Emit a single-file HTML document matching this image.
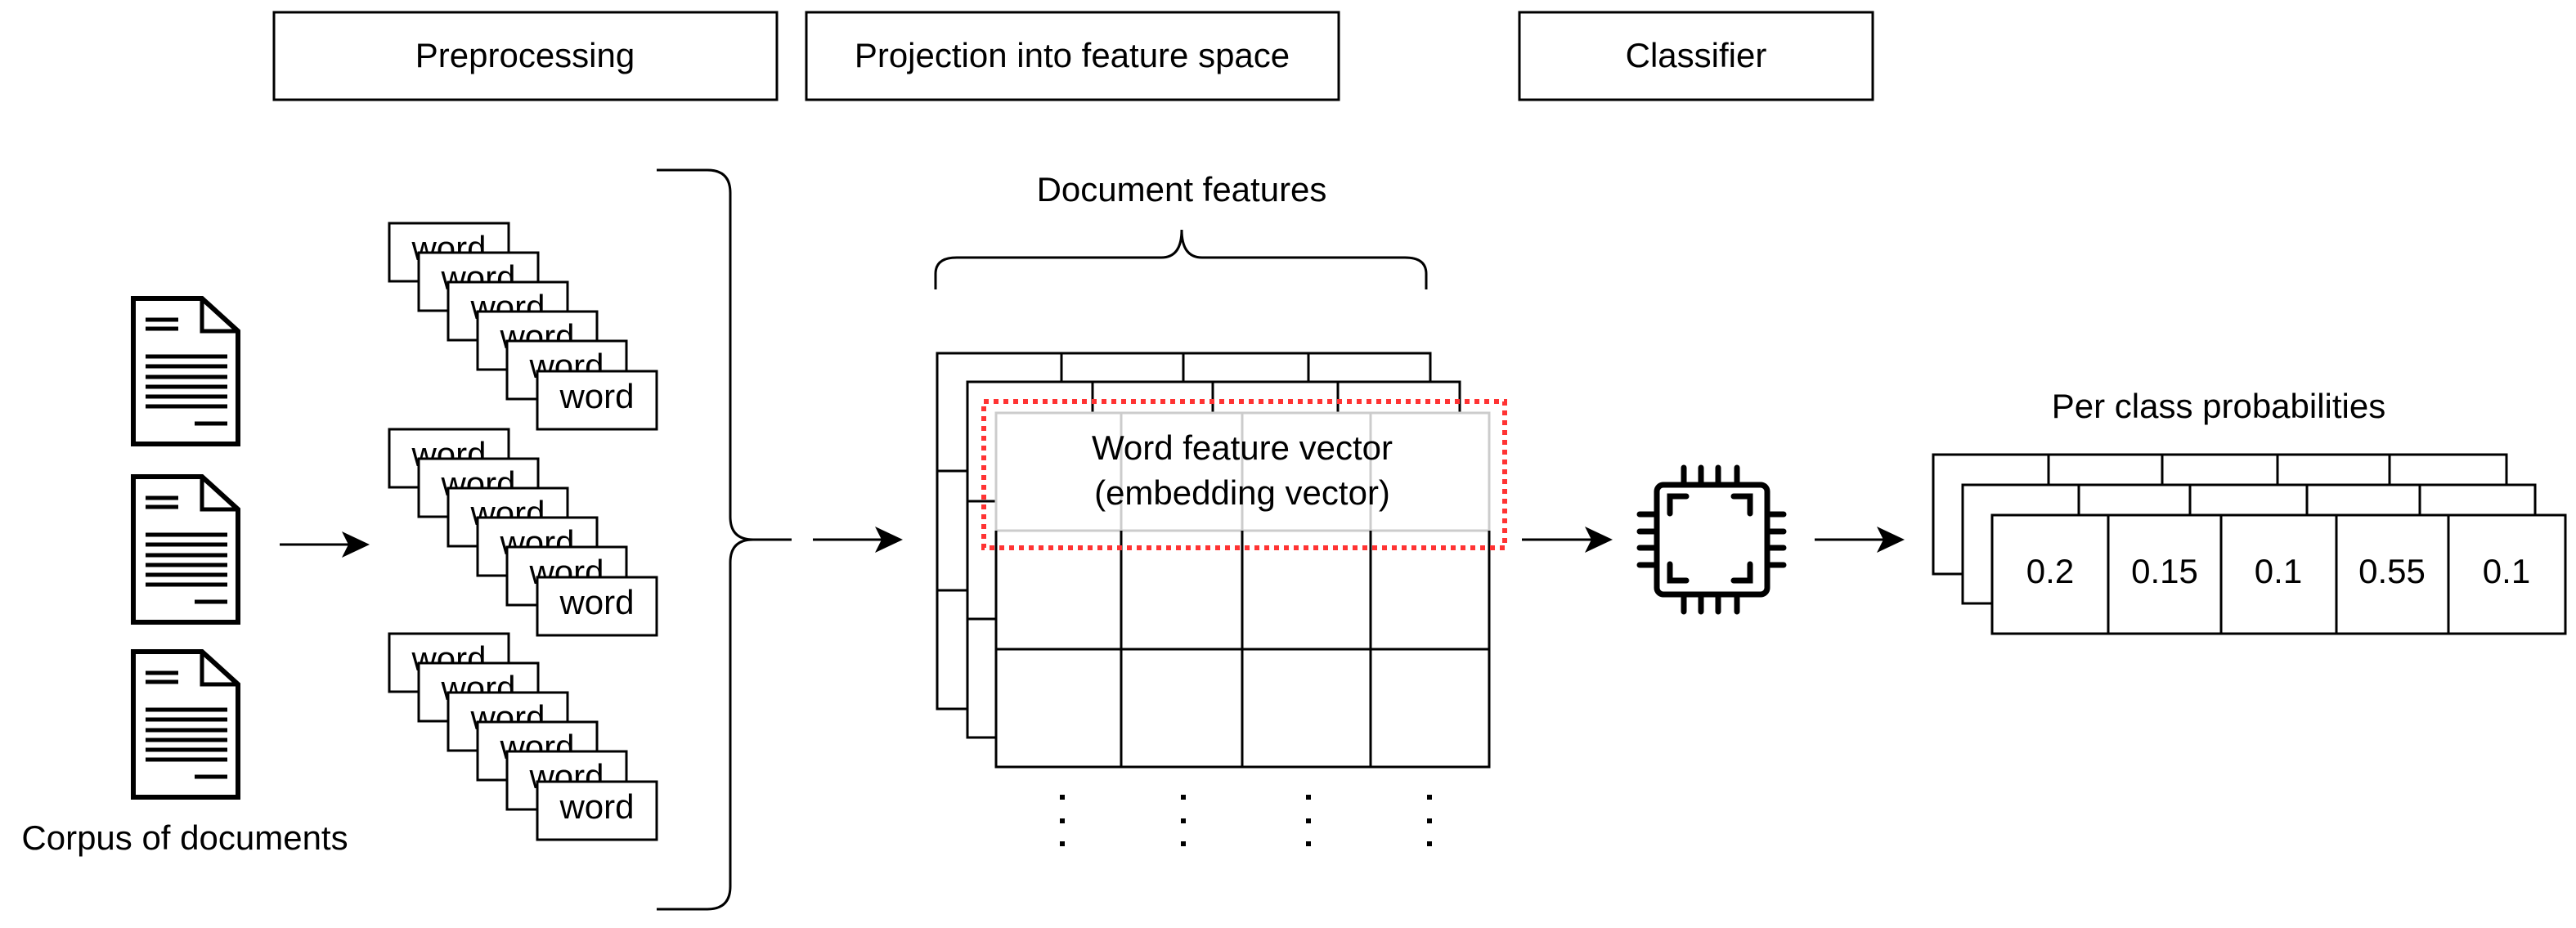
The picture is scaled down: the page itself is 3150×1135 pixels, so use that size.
<!DOCTYPE html>
<html><head><meta charset="utf-8"><style>
html,body{margin:0;padding:0;background:#fff;}
svg{display:block;}
text{font-family:"Liberation Sans",Arial,sans-serif;font-size:42px;fill:#000;}
</style></head><body>
<svg width="3150" height="1135" viewBox="0 0 3150 1135" xmlns="http://www.w3.org/2000/svg">
<!-- top boxes -->
<g fill="none" stroke="#000" stroke-width="3">
<rect x="335" y="15" width="615" height="107"/>
<rect x="986" y="15" width="651" height="107"/>
<rect x="1858" y="15" width="432" height="107"/>
</g>
<text x="642" y="82" text-anchor="middle">Preprocessing</text>
<text x="1311" y="82" text-anchor="middle">Projection into feature space</text>
<text x="2074" y="82" text-anchor="middle">Classifier</text>

<!-- documents -->
<g id="doc">
<path d="M163 365 H247 L291 405 V543 H163 Z" fill="#fff" stroke="#000" stroke-width="6"/>
<path d="M247 365 V405 H291" fill="none" stroke="#000" stroke-width="5"/>
<g stroke="#000" stroke-width="5">
<line x1="178" y1="391" x2="218" y2="391"/><line x1="178" y1="402" x2="218" y2="402"/>
<line x1="178" y1="436" x2="278" y2="436"/><line x1="178" y1="448" x2="278" y2="448"/>
<line x1="178" y1="461" x2="278" y2="461"/><line x1="178" y1="473" x2="278" y2="473"/>
<line x1="178" y1="485" x2="278" y2="485"/><line x1="178" y1="497" x2="278" y2="497"/>
<line x1="238" y1="518" x2="278" y2="518"/>
</g>
</g>
<use href="#doc" y="218"/>
<use href="#doc" y="432"/>
<text x="226" y="1039" text-anchor="middle">Corpus of documents</text>

<!-- arrows -->
<g stroke="#000" stroke-width="3">
<line x1="342" y1="666" x2="426" y2="666"/>
<line x1="994" y1="660" x2="1078" y2="660"/>
<line x1="1861" y1="660" x2="1946" y2="660"/>
<line x1="2219" y1="660" x2="2304" y2="660"/>
</g>
<g fill="#000">
<path d="M452 666 L418 650 L426 666 L418 682 Z"/>
<path d="M1104 660 L1070 644 L1078 660 L1070 676 Z"/>
<path d="M1972 660 L1938 644 L1946 660 L1938 676 Z"/>
<path d="M2329 660 L2295 644 L2303 660 L2295 676 Z"/>
</g>

<!-- word stacks -->
<g id="ws">
<g id="wb"><rect x="476" y="273" width="146" height="71" fill="#fff" stroke="#000" stroke-width="3"/><text x="549" y="318" text-anchor="middle">word</text></g>
<use href="#wb" x="36" y="36"/>
<use href="#wb" x="72" y="72"/>
<use href="#wb" x="108" y="108"/>
<use href="#wb" x="144" y="144"/>
<use href="#wb" x="181" y="181"/>
</g>
<use href="#ws" y="252"/>
<use href="#ws" y="502"/>

<!-- big brace -->
<path d="M803 208 H865 Q893 208 893 236 V632 Q893 660 921 660 H968 M921 660 Q893 660 893 688 V1084 Q893 1112 865 1112 H803" fill="none" stroke="#000" stroke-width="3"/>

<!-- document features brace -->
<text x="1445" y="246" text-anchor="middle">Document features</text>
<path d="M1144 354 V335 Q1144 315 1170 315 H1420 Q1445 315 1445 281 Q1445 315 1470 315 H1718 Q1744 315 1744 335 V354" fill="none" stroke="#000" stroke-width="3"/>

<!-- feature grids -->
<g fill="#fff" stroke="#000" stroke-width="3">
<rect x="1146" y="432" width="603" height="435"/>
<line x1="1298" y1="432" x2="1298" y2="467"/><line x1="1447" y1="432" x2="1447" y2="467"/><line x1="1600" y1="432" x2="1600" y2="467"/>
<line x1="1146" y1="576" x2="1183" y2="576"/><line x1="1146" y1="722" x2="1183" y2="722"/>
<rect x="1183" y="467" width="602" height="435"/>
<line x1="1336" y1="467" x2="1336" y2="505"/><line x1="1483" y1="467" x2="1483" y2="505"/><line x1="1636" y1="467" x2="1636" y2="505"/>
<line x1="1183" y1="613" x2="1218" y2="613"/><line x1="1183" y1="757" x2="1218" y2="757"/>
<rect x="1218" y="505" width="603" height="433"/>
</g>
<rect x="1218" y="505" width="603" height="144" fill="#fff" stroke="#ccc" stroke-width="3"/>
<g stroke="#ccc" stroke-width="3"><line x1="1371" y1="505" x2="1371" y2="649"/><line x1="1519" y1="505" x2="1519" y2="649"/><line x1="1676" y1="505" x2="1676" y2="649"/></g>
<g stroke="#000" stroke-width="3">
<line x1="1218" y1="649" x2="1218" y2="938"/><line x1="1821" y1="649" x2="1821" y2="938"/>
<line x1="1371" y1="649" x2="1371" y2="938"/><line x1="1519" y1="649" x2="1519" y2="938"/><line x1="1676" y1="649" x2="1676" y2="938"/>
<line x1="1218" y1="794" x2="1821" y2="794"/>
</g>
<rect x="1203" y="491" width="637" height="179" fill="none" stroke="#ff3333" stroke-width="6" stroke-dasharray="6,6"/>
<text x="1519" y="562" text-anchor="middle">Word feature vector</text>
<text x="1519" y="617" text-anchor="middle">(embedding vector)</text>
<g fill="#000">
<rect x="1296" y="972" width="6" height="6"/><rect x="1296" y="1001" width="6" height="6"/><rect x="1296" y="1029" width="6" height="6"/>
<rect x="1444" y="972" width="6" height="6"/><rect x="1444" y="1001" width="6" height="6"/><rect x="1444" y="1029" width="6" height="6"/>
<rect x="1597" y="972" width="6" height="6"/><rect x="1597" y="1001" width="6" height="6"/><rect x="1597" y="1029" width="6" height="6"/>
<rect x="1745" y="972" width="6" height="6"/><rect x="1745" y="1001" width="6" height="6"/><rect x="1745" y="1029" width="6" height="6"/>
</g>

<!-- chip -->
<g stroke="#000" stroke-width="7" fill="none" stroke-linecap="round">
<rect x="2026" y="593" width="135" height="134" rx="8"/>
<path d="M2042 628 V607 H2062 M2140 628 V607 H2120 M2042 690 V710 H2062 M2140 690 V710 H2120"/>
<path d="M2059 572 V592 M2080 572 V592 M2101 572 V592 M2124 572 V592 M2059 728 V748 M2080 728 V748 M2101 728 V748 M2124 728 V748"/>
<path d="M2005 629 H2025 M2005 650 H2025 M2005 670 H2025 M2005 691 H2025 M2162 629 H2181 M2162 650 H2181 M2162 670 H2181 M2162 691 H2181"/>
</g>

<!-- probabilities -->
<text x="2713" y="511" text-anchor="middle">Per class probabilities</text>
<g fill="#fff" stroke="#000" stroke-width="3">
<rect x="2364" y="556" width="701" height="146"/>
<line x1="2505" y1="556" x2="2505" y2="593"/><line x1="2644" y1="556" x2="2644" y2="593"/><line x1="2785" y1="556" x2="2785" y2="593"/><line x1="2922" y1="556" x2="2922" y2="593"/>
<rect x="2400" y="593" width="700" height="145"/>
<line x1="2542" y1="593" x2="2542" y2="630"/><line x1="2678" y1="593" x2="2678" y2="630"/><line x1="2821" y1="593" x2="2821" y2="630"/><line x1="2959" y1="593" x2="2959" y2="630"/>
<rect x="2436" y="630" width="701" height="145"/>
<line x1="2578" y1="630" x2="2578" y2="775"/><line x1="2716" y1="630" x2="2716" y2="775"/><line x1="2857" y1="630" x2="2857" y2="775"/><line x1="2994" y1="630" x2="2994" y2="775"/>
</g>
<text x="2507" y="713" text-anchor="middle">0.2</text>
<text x="2647" y="713" text-anchor="middle">0.15</text>
<text x="2786" y="713" text-anchor="middle">0.1</text>
<text x="2925" y="713" text-anchor="middle">0.55</text>
<text x="3065" y="713" text-anchor="middle">0.1</text>
</svg>
</body></html>
